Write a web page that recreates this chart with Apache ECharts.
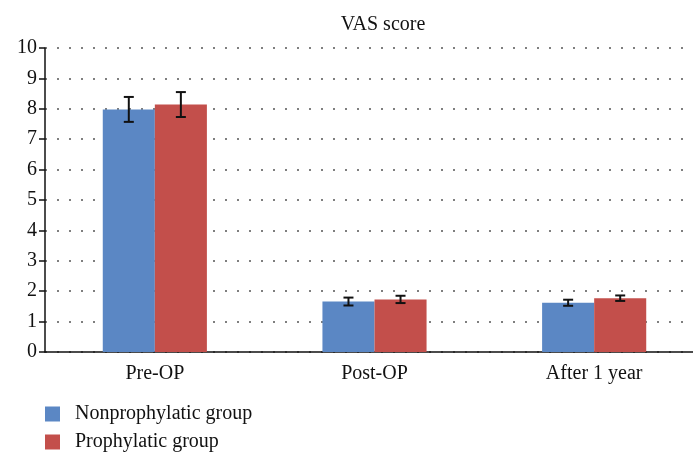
<!DOCTYPE html>
<html><head><meta charset="utf-8">
<script src="https://cdn.jsdelivr.net/npm/echarts@6/dist/echarts.min.js"></script>
<style>html,body{margin:0;padding:0;background:#fff}#c{width:693px;height:455px}</style>
</head><body><div id="c"></div>
<script>
var categories = ['Pre-OP', 'Post-OP', 'After 1 year'];
var seriesNames = ['Nonprophylatic group', 'Prophylatic group'];
var nonMean = [7.98, 1.66, 1.62];
var nonErr = [0.41, 0.13, 0.10];
var proMean = [8.14, 1.73, 1.77];
var proErr = [0.41, 0.12, 0.09];
var yTicks = [0,1,2,3,4,5,6,7,8,9,10];

var FONT = 'Liberation Serif';
var FS = 20;
var colors = ['#5b87c4', '#c34f4b'];

function errData(mean, err){
  return mean.map(function(m,i){ return [i, m - err[i], m + err[i]]; });
}
function errSeries(mean, err, side){
  return {
    type: 'custom',
    z: 10,
    silent: true,
    data: errData(mean, err),
    encode: {x: 0, y: [1, 2]},
    renderItem: function(params, api){
      var i = api.value(0);
      var lo = api.coord([i, api.value(1)]);
      var hi = api.coord([i, api.value(2)]);
      var band = api.size([1, 0])[0];
      var x = lo[0] + side * band * 0.1185;
      var cap = 5;
      var st = {stroke: '#111', lineWidth: 2, fill: null};
      return {type: 'group', children: [
        {type: 'line', shape: {x1: x, y1: lo[1], x2: x, y2: hi[1]}, style: st},
        {type: 'line', shape: {x1: x - cap, y1: lo[1], x2: x + cap, y2: lo[1]}, style: st},
        {type: 'line', shape: {x1: x - cap, y1: hi[1], x2: x + cap, y2: hi[1]}, style: st}
      ]};
    }
  };
}
function legendFor(name, top){
  return {
    orient: 'vertical', left: 45, top: top, padding: 0,
    icon: 'rect', itemWidth: 15, itemHeight: 15, itemGap: 0,
    data: [name],
    textStyle: {fontFamily: FONT, fontSize: FS, color: '#111', padding: [0,0,0,10]}
  };
}

var chart = echarts.init(document.getElementById('c'), null, {renderer: 'canvas'});
chart.setOption({
  animation: false,
  textStyle: {fontFamily: FONT},
  title: {
    text: 'VAS score', left: 378, textAlign: 'center', top: 10,
    textStyle: {fontFamily: FONT, fontSize: FS, fontWeight: 'normal', color: '#111'}
  },
  legend: [legendFor(seriesNames[0], 404), legendFor(seriesNames[1], 432)],
  grid: {left: 45, width: 659, top: 48, bottom: 103, containLabel: false, outerBoundsMode: 'none'},
  xAxis: {
    type: 'category', data: categories,
    axisLine: {lineStyle: {color: '#111', width: 1.5}},
    axisTick: {show: false},
    axisLabel: {fontFamily: FONT, fontSize: FS, color: '#111', margin: 12}
  },
  yAxis: {
    type: 'value', min: 0, max: 10, interval: 1,
    axisLine: {show: true, lineStyle: {color: '#111', width: 1.5}},
    axisTick: {show: true, inside: false, length: 6, lineStyle: {color: '#111', width: 1.5}},
    axisLabel: {fontFamily: FONT, fontSize: FS, color: '#111', margin: 8,
      formatter: function(v){ return yTicks.indexOf(v) >= 0 ? String(v) : ''; }},
    splitLine: {show: true, lineStyle: {color: '#555', width: 1.5, type: [2, 10]}}
  },
  series: [
    {name: seriesNames[0], type: 'bar', data: nonMean, barGap: '0%', barCategoryGap: '52.6%',
     itemStyle: {color: colors[0]}},
    {name: seriesNames[1], type: 'bar', data: proMean, barGap: '0%', barCategoryGap: '52.6%',
     itemStyle: {color: colors[1]}},
    errSeries(nonMean, nonErr, -1),
    errSeries(proMean, proErr, 1)
  ]
});
</script></body></html>
